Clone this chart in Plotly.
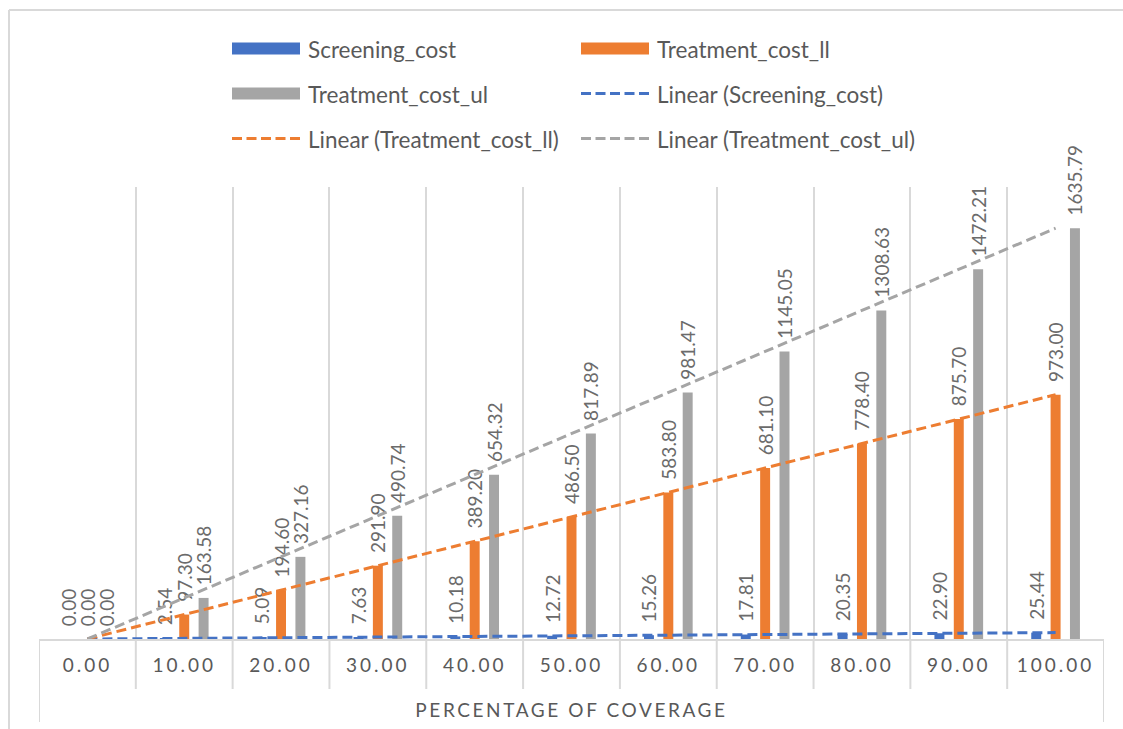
import numpy as np
import plotly.graph_objects as go

# ---- data -------------------------------------------------------------
categories = ["0.00", "10.00", "20.00", "30.00", "40.00", "50.00",
              "60.00", "70.00", "80.00", "90.00", "100.00"]
screening_cost = [0.00, 2.54, 5.09, 7.63, 10.18, 12.72, 15.26, 17.81, 20.35, 22.90, 25.44]
treatment_cost_ll = [0.00, 97.30, 194.60, 291.90, 389.20, 486.50, 583.80, 681.10, 778.40, 875.70, 973.00]
treatment_cost_ul = [0.00, 163.58, 327.16, 490.74, 654.32, 817.89, 981.47, 1145.05, 1308.63, 1472.21, 1635.79]
series_names = ["Screening_cost", "Treatment_cost_ll", "Treatment_cost_ul"]
x_title = "PERCENTAGE OF COVERAGE"

# ---- style ------------------------------------------------------------
colors = ["#4472C4", "#ED7D31", "#A5A5A5"]
grid_color = "#D9D9D9"
text_color = "#595959"
label_color = "#6b6b6b"
FONT = "Lato, 'Open Sans', sans-serif"

W, H = 1123, 729
ML, MR, MT, MB = 39, 19, 187, 90
PW, PH = W - ML - MR, H - MT - MB


def px_x(px):
    """pixel column -> paper x"""
    return (px - ML) / PW


def px_y(py):
    """pixel row -> paper y"""
    return (H - MB - py) / PH


series_values = [screening_cost, treatment_cost_ll, treatment_cost_ul]

fig = go.Figure()

# clustered columns with rotated value labels above each bar
for name, vals, col in zip(series_names, series_values, colors):
    fig.add_trace(go.Bar(
        x=categories, y=vals, name=name,
        marker=dict(color=col, line=dict(width=0)),
        texttemplate="\u00a0\u00a0%{y:.2f}",
        textposition="outside", textangle=-90,
        constraintext="none", cliponaxis=False,
        textfont=dict(family=FONT, size=19, color=label_color),
        showlegend=False,
    ))

# linear trendlines fitted to each series
idx = np.arange(len(categories))
for name, vals, col in zip(series_names, series_values, colors):
    slope, intercept = np.polyfit(idx, np.asarray(vals, dtype=float), 1)
    fig.add_trace(go.Scatter(
        x=categories, y=slope * idx + intercept, mode="lines",
        name=f"Linear ({name})",
        line=dict(color=col, width=3, dash="10px,5px"),
        showlegend=False, hoverinfo="skip",
    ))

shapes = []
annotations = []

# category boundary marks running below the axis
n = len(categories)
for i in range(n + 1):
    outer = i in (0, n)
    shapes.append(dict(
        type="line", xref="x", yref="paper",
        x0=i - 0.5, x1=i - 0.5, y0=0, y1=px_y(722 if outer else 689),
        line=dict(color=grid_color, width=2), layer="below",
    ))

# chart-area frame (top and left edges)
shapes.append(dict(type="line", xref="paper", yref="paper",
                   x0=px_x(9), x1=px_x(W + 5), y0=px_y(10), y1=px_y(10),
                   line=dict(color=grid_color, width=2)))
shapes.append(dict(type="line", xref="paper", yref="paper",
                   x0=px_x(9), x1=px_x(9), y0=px_y(10), y1=px_y(H + 5),
                   line=dict(color=grid_color, width=2)))

# legend: two columns, three rows
legend_items = [
    ("bar", colors[0], series_names[0]),
    ("bar", colors[1], series_names[1]),
    ("bar", colors[2], series_names[2]),
    ("line", colors[0], f"Linear ({series_names[0]})"),
    ("line", colors[1], f"Linear ({series_names[1]})"),
    ("line", colors[2], f"Linear ({series_names[2]})"),
]
col_x = [232, 581]
row_y = [48.5, 93.5, 138.5]
sw_len = 68
for k, (kind, col, label) in enumerate(legend_items):
    cx = col_x[k % 2]
    cy = row_y[k // 2]
    if kind == "bar":
        shapes.append(dict(type="rect", xref="paper", yref="paper",
                           x0=px_x(cx), x1=px_x(cx + sw_len),
                           y0=px_y(cy + 6), y1=px_y(cy - 6),
                           fillcolor=col, line=dict(width=0)))
    else:
        shapes.append(dict(type="line", xref="paper", yref="paper",
                           x0=px_x(cx), x1=px_x(cx + sw_len),
                           y0=px_y(cy), y1=px_y(cy),
                           line=dict(color=col, width=3, dash="10px,4.5px")))
    annotations.append(dict(
        xref="paper", yref="paper", x=px_x(cx + sw_len + 6), y=px_y(cy + 1),
        xanchor="left", yanchor="middle", showarrow=False, text=label,
        font=dict(family=FONT, size=22.5, color=text_color),
    ))

fig.update_layout(
    width=W, height=H,
    margin=dict(l=ML, r=MR, t=MT, b=MB, autoexpand=False),
    paper_bgcolor="white", plot_bgcolor="white",
    barmode="group", bargap=0.4, bargroupgap=0.485,
    showlegend=False,
    shapes=shapes, annotations=annotations,
    font=dict(family=FONT, color=text_color),
)

fig.update_xaxes(
    type="category", range=[-0.5, n - 0.5],
    tickmode="array", tickvals=categories,
    ticktext=[f'<span style="letter-spacing:3px">{c}</span>' for c in categories],
    tickson="boundaries", ticks="", ticklabelstandoff=8,
    showgrid=True, gridcolor=grid_color, gridwidth=2,
    showline=True, linecolor=grid_color, linewidth=2,
    tickfont=dict(family=FONT, size=19, color=text_color),
    title=dict(text=f'<span style="letter-spacing:2.6px">{x_title}</span>',
               font=dict(family=FONT, size=19, color=text_color), standoff=29),
    automargin=False, zeroline=False,
)
fig.update_yaxes(range=[0, 1800], visible=False, showgrid=False, zeroline=False)

fig.write_html("out.html")
